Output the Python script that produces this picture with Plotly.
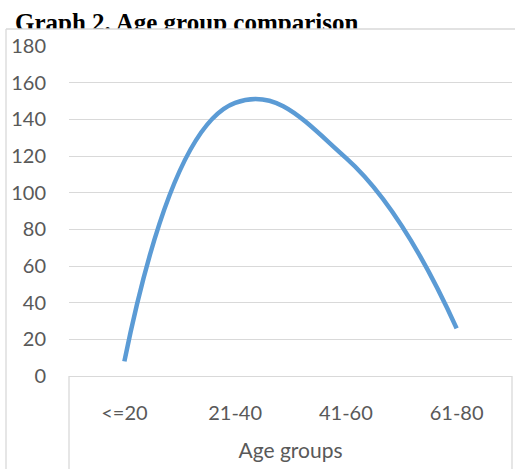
import plotly.graph_objects as go

# Respondent counts per age group
age_groups = ["<=20", "21-40", "41-60", "61-80"]
counts = [8, 149, 119, 26]

title_text = "Graph 2. Age group comparison"
x_title = "Age groups"

W, H = 515, 474


def px_x(x):
    return x / W


def px_y(y):
    return 1 - y / H


LABEL_FONT = dict(family="Lato, 'Open Sans', sans-serif", size=20, color="#595959")
AXIS_TITLE_FONT = dict(LABEL_FONT, size=21)
GRID = "#d9d9d9"

fig = go.Figure()

# Smoothed line series
fig.add_trace(go.Scatter(
    x=age_groups, y=counts, mode="lines",
    line=dict(color="#5B9BD5", width=4.5, shape="spline", smoothing=1.3),
    xaxis="x", yaxis="y", showlegend=False, hoverinfo="x+y",
))

# Heading on its own strip so the chart frame clips its lower edge
fig.add_trace(go.Scatter(
    x=[15], y=[25], mode="text", text=[title_text],
    textposition="middle right",
    textfont=dict(family="'Liberation Serif', 'Times New Roman', serif",
                  size=25, color="#000000", weight="bold"),
    xaxis="x2", yaxis="y2", showlegend=False, hoverinfo="skip",
    cliponaxis=True,
))

shapes = []
# Outer chart frame (left and top edges)
shapes.append(dict(type="line", xref="paper", yref="paper",
                   x0=px_x(6), x1=px_x(6), y0=px_y(469), y1=px_y(29),
                   line=dict(color=GRID, width=1.3)))
shapes.append(dict(type="line", xref="paper", yref="paper",
                   x0=px_x(6), x1=px_x(W), y0=px_y(29), y1=px_y(29),
                   line=dict(color=GRID, width=1.3)))
# Category axis box
for xv in (69, 512):
    shapes.append(dict(type="line", xref="paper", yref="paper",
                       x0=px_x(xv), x1=px_x(xv), y0=px_y(376), y1=px_y(469),
                       line=dict(color=GRID, width=1.3)))

fig.update_layout(
    width=W, height=H,
    margin=dict(l=0, r=0, t=0, b=0, autoexpand=False),
    paper_bgcolor="white", plot_bgcolor="white",
    shapes=shapes,
    xaxis=dict(
        domain=[px_x(69), px_x(512)], range=[-0.5, 3.5],
        type="category", showgrid=False, zeroline=False, showline=True,
        linecolor=GRID, linewidth=1.3, ticks="",
        tickfont=LABEL_FONT, ticklabelstandoff=19,
        title=dict(text=x_title, font=AXIS_TITLE_FONT, standoff=20),
        automargin=False, fixedrange=True,
    ),
    yaxis=dict(
        domain=[px_y(376), px_y(46)], range=[0, 180], dtick=20,
        showgrid=True, gridcolor=GRID, gridwidth=1.3,
        zeroline=False, showline=False, ticks="",
        tickfont=LABEL_FONT, ticklabelstandoff=22,
        automargin=False, fixedrange=True,
    ),
    xaxis2=dict(domain=[0, 1], range=[0, W], visible=False,
                automargin=False, fixedrange=True),
    yaxis2=dict(domain=[px_y(29), 1], range=[29, 0], visible=False,
                automargin=False, fixedrange=True, anchor="x2"),
)

fig.write_html("out.html")
